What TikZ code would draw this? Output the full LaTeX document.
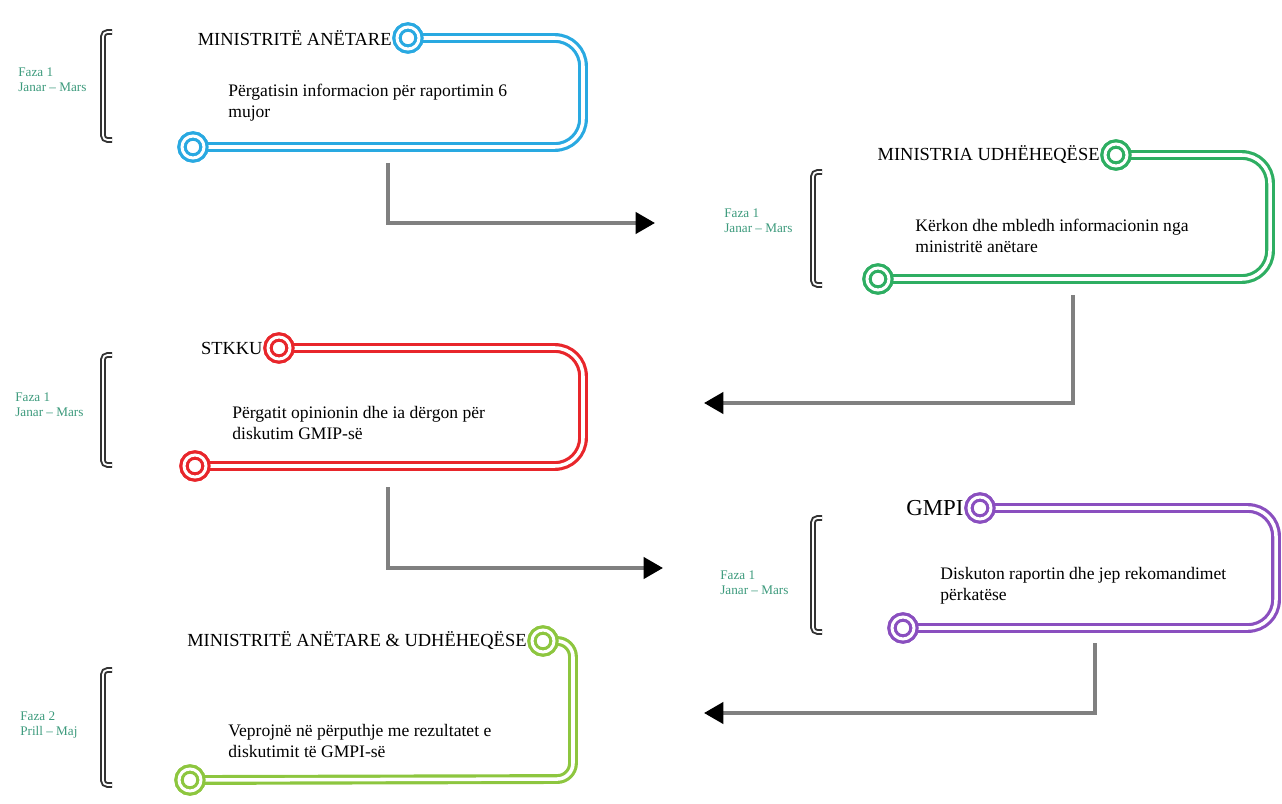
\documentclass[tikz,border=0pt]{standalone}
\usepackage{fontspec}
\setmainfont{Liberation Serif}
\usetikzlibrary{arrows.meta,positioning}
\definecolor{cblue}{HTML}{29A9E1}
\definecolor{cgreen}{HTML}{2EAE62}
\definecolor{cred}{HTML}{E8262B}
\definecolor{cpurple}{HTML}{8A4FBF}
\definecolor{clime}{HTML}{8DC63F}
\definecolor{cphase}{HTML}{3C9A7C}
\tikzset{
  track/.style={draw=#1, line width=1.8pt, double=white, double distance=2pt, rounded corners=16pt},
  ring/.style={circle, draw=#1, line width=1.8pt, double=white, double distance=1.7pt, fill=white, minimum size=0.44cm, inner sep=0pt},
  brace/.style={draw=black!80, line width=1.1pt, double=white, double distance=1pt, rounded corners=2.5pt},
  title/.style={font=\fontsize{10.5}{12}\selectfont, inner sep=1pt},
  desc/.style={font=\fontsize{10}{12}\selectfont, align=left, anchor=west, inner sep=0pt},
  phase/.style={font=\fontsize{7.5}{8.5}\selectfont, text=cphase, align=left, anchor=west, inner sep=0pt},
  flow/.style={draw=black!50, line width=2.2pt, -{Triangle[length=11pt,width=12pt,color=black]}}
}
\begin{document}
\begin{tikzpicture}[x=0.02cm, y=-0.02cm]
\useasboundingbox (0,0) rectangle (1282,804);
% ministrite anetare
\node[ring=cblue] (m1top) at (408,38) {};
\node[ring=cblue] (m1bot) at (193,147) {};
\draw[track=cblue] (m1bot) -- (583,147) -- (583,38) -- (m1top);
\node[ring=cblue] at (m1top) {};
\node[ring=cblue] at (m1bot) {};
\node[title, left=1pt of m1top] (t1) {MINISTRITË ANËTARE};
\node[desc] (d1) at (228,103) {Përgatisin informacion për raportimin 6\\mujor};
\draw[brace] (112,32) -- (103,32) -- (103,140) -- (112,140);
\node[phase] (p1) at (18,80) {Faza 1\\Janar – Mars};
% ministria udheheqese
\node[ring=cgreen] (m2top) at (1116,155) {};
\node[ring=cgreen] (m2bot) at (878,279) {};
\draw[track=cgreen] (m2bot) -- (1270,279) -- (1270,155) -- (m2top);
\node[ring=cgreen] at (m2top) {};
\node[ring=cgreen] at (m2bot) {};
\node[title, left=1pt of m2top] (t2) {MINISTRIA UDHËHEQËSE};
\node[desc] (d2) at (915,236) {Kërkon dhe mbledh informacionin nga\\ministritë anëtare};
\draw[brace] (822,172) -- (813,172) -- (813,285) -- (822,285);
\node[phase] (p2) at (724,221) {Faza 1\\Janar – Mars};
% stkku
\node[ring=cred] (m3top) at (279,348) {};
\node[ring=cred] (m3bot) at (195,466) {};
\draw[track=cred] (m3bot) -- (583,466) -- (583,348) -- (m3top);
\node[ring=cred] at (m3top) {};
\node[ring=cred] at (m3bot) {};
\node[title, left=1pt of m3top] (t3) {STKKU};
\node[desc] (d3) at (232,423) {Përgatit opinionin dhe ia dërgon për\\diskutim GMIP-së};
\draw[brace] (112,355) -- (103,355) -- (103,465) -- (112,465);
\node[phase] (p3) at (15,405) {Faza 1\\Janar – Mars};
% gmpi
\node[ring=cpurple] (m4top) at (980,508) {};
\node[ring=cpurple] (m4bot) at (903,628) {};
\draw[track=cpurple] (m4bot) -- (1276,628) -- (1276,508) -- (m4top);
\node[ring=cpurple] at (m4top) {};
\node[ring=cpurple] at (m4bot) {};
\node[title, font=\fontsize{13}{14}\selectfont, left=1pt of m4top] (t4) {GMPI};
\node[desc] (d4) at (940,586) {Diskuton raportin dhe jep rekomandimet\\përkatëse};
\draw[brace] (822,518) -- (813,518) -- (813,632) -- (822,632);
\node[phase] (p4) at (720,583) {Faza 1\\Janar – Mars};
% ministrite anetare & udheheqese
\node[ring=clime] (m5top) at (543,641) {};
\node[ring=clime] (m5bot) at (190,780) {};
\draw[track=clime, rounded corners=9pt] (m5bot) -- (573,779) -- (573,641) -- (m5top);
\node[ring=clime] at (m5top) {};
\node[ring=clime] at (m5bot) {};
\node[title, left=1pt of m5top] (t5) {MINISTRITË ANËTARE \& UDHËHEQËSE};
\node[desc] (d5) at (228,741) {Veprojnë në përputhje me rezultatet e\\diskutimit të GMPI-së};
\draw[brace] (112,670) -- (103,670) -- (103,785) -- (112,785);
\node[phase] (p5) at (20,725) {Faza 2\\Prill – Maj};
% shigjetat
\coordinate (a1s) at (388,163);
\coordinate (a1e) at (655,223);
\coordinate (a2s) at (1073,295);
\coordinate (a2e) at (704,403);
\coordinate (a3s) at (388,487);
\coordinate (a3e) at (663,568);
\coordinate (a4s) at (1095,643);
\coordinate (a4e) at (704,713);
\draw[flow] (a1s) |- (a1e);
\draw[flow] (a2s) |- (a2e);
\draw[flow] (a3s) |- (a3e);
\draw[flow] (a4s) |- (a4e);
\end{tikzpicture}
\end{document}
